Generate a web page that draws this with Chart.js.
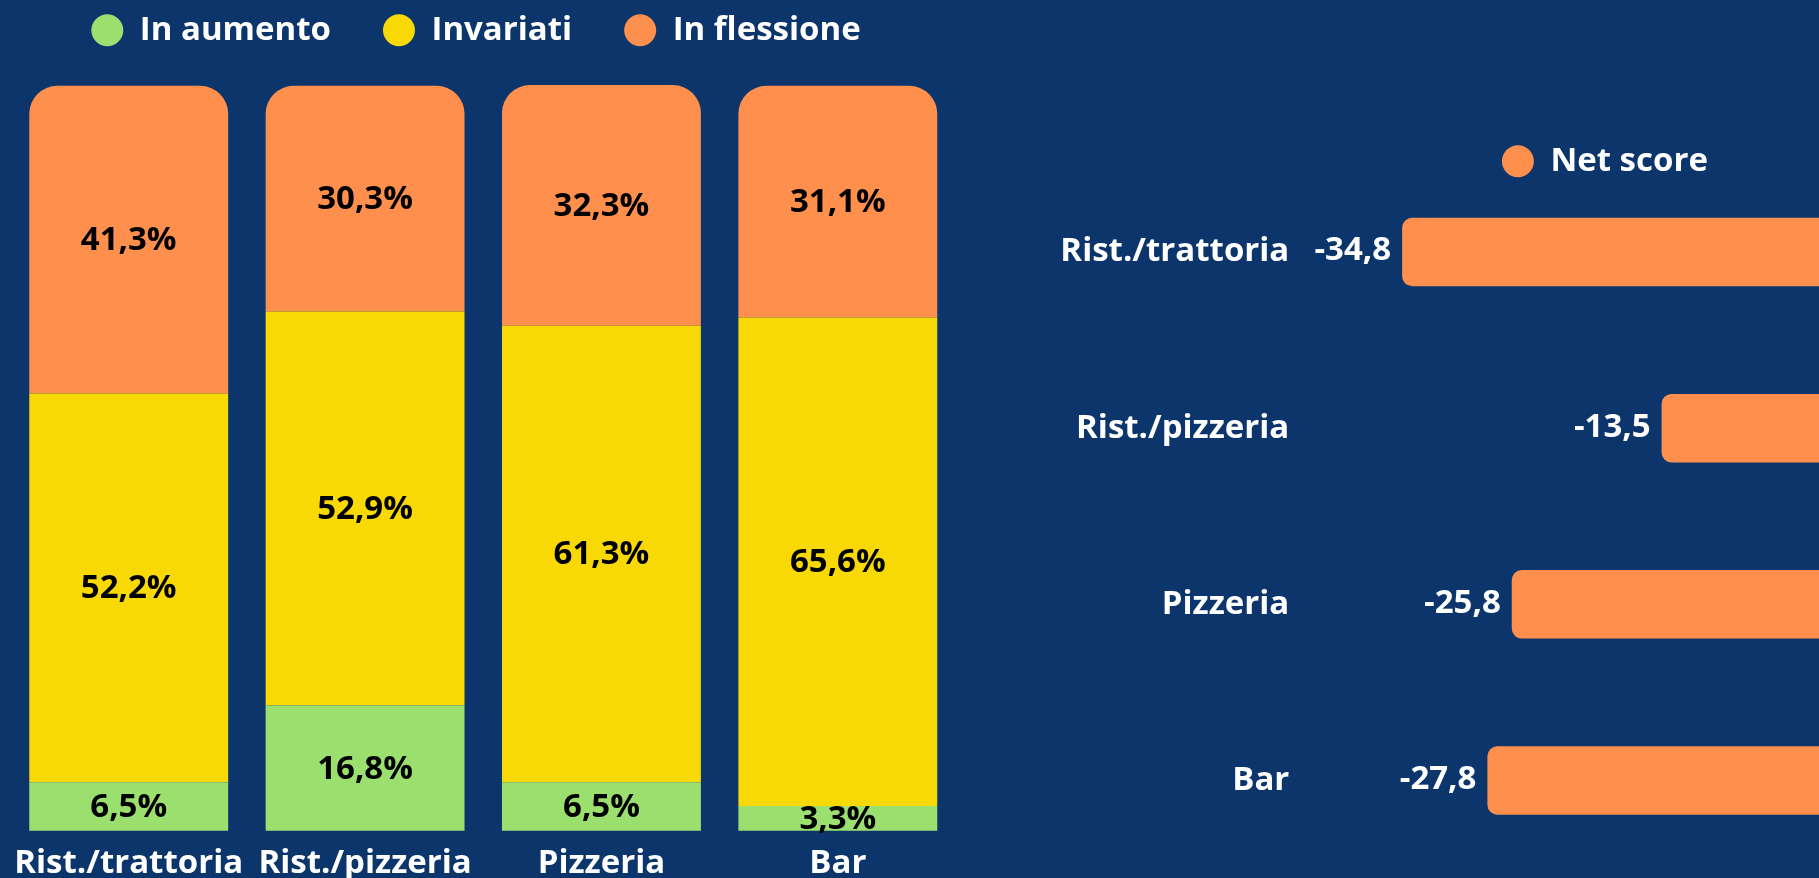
<!DOCTYPE html>
<html>
<head>
<meta charset="utf-8">
<script src="https://cdn.jsdelivr.net/npm/chart.js@4.4.1/dist/chart.umd.min.js"></script>
<style>
  html, body { margin: 0; padding: 0; background: #0c356b; overflow: hidden; width: 1819px; height: 878px; }
  #leftBox { position: absolute; left: 0; top: 0; width: 966px; height: 878px; }
  #rightBox { position: absolute; left: 1000px; top: 0; width: 826px; height: 878px; }
</style>
</head>
<body>
<div id="leftBox"><canvas id="stack"></canvas></div>
<div id="rightBox"><canvas id="net"></canvas></div>
<script>
// ---- data ----
const categories = ['Rist./trattoria', 'Rist./pizzeria', 'Pizzeria', 'Bar'];
const inAumento = [6.5, 16.8, 6.5, 3.3];
const invariati = [52.2, 52.9, 61.3, 65.6];
const inFlessione = [41.3, 30.3, 32.3, 31.1];
const netScore = [-34.8, -13.5, -25.8, -27.8];
const seriesNames = ['In aumento', 'Invariati', 'In flessione'];
const netName = 'Net score';

// ---- style ----
const GREEN = '#9be06f', YELLOW = '#f8d906', ORANGE = '#fe8f4c', WHITE = '#ffffff';
const FONT = '"Open Sans", sans-serif';
const FS = 33;
Chart.defaults.font.family = FONT;

const fmt = v => v.toFixed(1).replace('.', ',');

const legendPlace = {
  id: 'legendPlace',
  beforeLayout(chart, args, o) {
    const lg = chart.legend;
    if (!lg || lg.__placed) return;
    const fit = lg.fit;
    lg.fit = function () { fit.call(this); this.height = o.height; };
    lg.__placed = true;
  },
  afterLayout(chart, args, o) {
    const lg = chart.legend;
    if (!lg) return;
    lg.top = o.top; lg.bottom = o.bottom;
    lg.left += o.dx; lg.right += o.dx;
  }
};

const segLabels = {
  id: 'segLabels',
  afterDatasetsDraw(chart) {
    const ctx = chart.ctx;
    ctx.save();
    ctx.font = 'bold ' + FS + 'px ' + FONT;
    ctx.fillStyle = '#000';
    ctx.textAlign = 'center';
    ctx.textBaseline = 'middle';
    chart.data.datasets.forEach((ds, i) => {
      chart.getDatasetMeta(i).data.forEach((bar, j) => {
        const p = bar.getProps(['x', 'y', 'base'], true);
        ctx.fillText(fmt(ds.data[j]) + '%', p.x, (p.y + p.base) / 2 + 1);
      });
    });
    ctx.restore();
  }
};

const valLabels = {
  id: 'valLabels',
  afterDatasetsDraw(chart) {
    const ctx = chart.ctx;
    ctx.save();
    ctx.font = 'bold ' + FS + 'px ' + FONT;
    ctx.fillStyle = WHITE;
    ctx.textAlign = 'right';
    ctx.textBaseline = 'middle';
    const ds = chart.data.datasets[0];
    chart.getDatasetMeta(0).data.forEach((bar, j) => {
      const p = bar.getProps(['x', 'y'], true);
      ctx.fillText(fmt(ds.data[j]), p.x - 11, p.y - 1);
    });
    ctx.restore();
  }
};

const legendLabels = {
  color: WHITE,
  font: { size: FS, weight: 'bold', family: FONT },
  usePointStyle: true,
  pointStyle: 'circle',
  pointStyleWidth: 32,
  boxHeight: 22.6
};

new Chart(document.getElementById('stack'), {
  type: 'bar',
  data: {
    labels: categories,
    datasets: [
      { label: seriesNames[0], data: inAumento, backgroundColor: GREEN, borderWidth: 0, clip: false },
      { label: seriesNames[1], data: invariati, backgroundColor: YELLOW, borderWidth: 0, clip: false },
      { label: seriesNames[2], data: inFlessione, backgroundColor: ORANGE, borderWidth: 0, clip: false,
        borderRadius: { topLeft: 28, topRight: 28, bottomLeft: 0, bottomRight: 0 }, borderSkipped: 'start' }
    ]
  },
  options: {
    responsive: true,
    maintainAspectRatio: false,
    animation: false,
    layout: { padding: { left: 10, right: 10, top: 0, bottom: 0 } },
    datasets: { bar: { categoryPercentage: 1, barPercentage: 0.8414 } },
    scales: {
      x: {
        stacked: true,
        grid: { display: false, drawTicks: false },
        border: { display: false },
        ticks: { color: WHITE, font: { size: FS, weight: 'bold' }, padding: 13, maxRotation: 0, autoSkip: false },
        afterFit(scale) { scale.height = 47.3; scale.paddingTop = 0; scale.paddingBottom = 0; }
      },
      y: { stacked: true, display: false, min: 0, max: 100 }
    },
    plugins: {
      legend: { position: 'top', labels: Object.assign({ padding: 52 }, legendLabels) },
      tooltip: { enabled: false },
      legendPlace: { height: 85.8, top: -38.3, bottom: 100, dx: -7 }
    }
  },
  plugins: [legendPlace, segLabels]
});

new Chart(document.getElementById('net'), {
  type: 'bar',
  data: {
    labels: categories,
    datasets: [
      { label: netName, data: netScore, backgroundColor: ORANGE, borderWidth: 0, borderRadius: 10, borderSkipped: 'start' }
    ]
  },
  options: {
    indexAxis: 'y',
    responsive: true,
    maintainAspectRatio: false,
    animation: false,
    layout: { padding: { left: 0, right: 0, top: 0, bottom: 9.4 } },
    datasets: { bar: { categoryPercentage: 1, barPercentage: 0.389 } },
    scales: {
      x: { display: false, min: -40, max: 0 },
      y: {
        grid: { display: false, drawTicks: false },
        border: { display: false },
        ticks: { color: WHITE, font: { size: FS, weight: 'bold' }, padding: 49.5, labelOffset: 0 },
        afterFit(scale) { scale.width = 338.8; scale.paddingTop = 0; scale.paddingBottom = 0; }
      }
    },
    plugins: {
      legend: { position: 'top', labels: Object.assign({ padding: 10 }, legendLabels) },
      tooltip: { enabled: false },
      legendPlace: { height: 163.9, top: 134.7, bottom: 200, dx: 191.9 }
    }
  },
  plugins: [legendPlace, valLabels]
});
</script>
</body>
</html>
